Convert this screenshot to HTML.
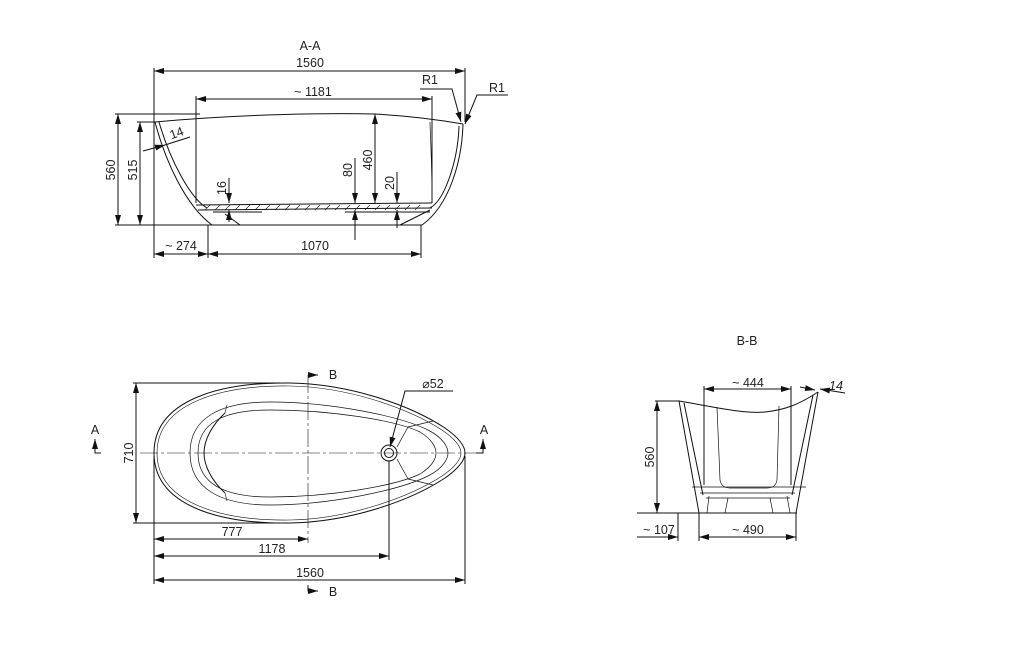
<!DOCTYPE html>
<html><head><meta charset="utf-8"><style>
html,body{margin:0;padding:0;background:#fff}
svg{display:block}
text{font-family:"Liberation Sans",sans-serif;font-size:12.5px;fill:#222}
</style></head><body>
<svg width="1013" height="660" viewBox="0 0 1013 660" xmlns="http://www.w3.org/2000/svg">
<defs>
<marker id="a" viewBox="0 0 10 6" refX="10" refY="3" markerWidth="10" markerHeight="6" orient="auto-start-reverse" markerUnits="userSpaceOnUse"><path d="M0,0L10,3L0,6Z" fill="#111"/></marker>
</defs>
<g stroke="#111" stroke-width="1" fill="none">
<!-- ===== A-A ===== -->
<line x1="154" y1="68" x2="154" y2="258"/>
<line x1="465" y1="68" x2="465" y2="122"/>
<line x1="154" y1="71" x2="465" y2="71" marker-start="url(#a)" marker-end="url(#a)"/>
<line x1="196" y1="96" x2="196" y2="203"/>
<line x1="432" y1="96" x2="432" y2="203"/>
<line x1="196" y1="99" x2="432" y2="99" marker-start="url(#a)" marker-end="url(#a)"/>
<line x1="115" y1="114" x2="200" y2="114"/>
<line x1="115" y1="225" x2="422" y2="225"/>
<line x1="118" y1="114" x2="118" y2="225" marker-start="url(#a)" marker-end="url(#a)"/>
<line x1="137" y1="122" x2="156" y2="122"/>
<line x1="140" y1="122" x2="140" y2="225" marker-start="url(#a)" marker-end="url(#a)"/>
<path d="M155,122 C240,114 330,113 375,114 C410,116 440,120 463,124"/>
<path d="M155,122 C165,160 185,205 212,225"/>
<path d="M159,122 C170,160 190,198 207,208"/>
<path d="M463,124 C462,160 450,205 422,225"/>
<path d="M459,126 C458,160 445,200 430,208"/>
<path d="M432,200 C432,160 430,130 430,122" stroke-width="0.7"/>
<path d="M196,205 L432,203" />
<path d="M198,210 L432,208" />
<path d="M213,212 L262,212 M345,212 L430,212"/>
<path d="M225,214 L240,225 M400,225 L430,210"/>
<g stroke-width="0.6">
<path d="M205,210 l5,-5 M215,210 l5,-5 M225,210 l5,-5 M235,210 l5,-5 M245,210 l5,-5 M255,210 l5,-5 M265,210 l5,-5 M275,210 l5,-5 M285,210 l5,-5 M295,210 l5,-5 M305,210 l5,-5 M315,210 l5,-5 M325,210 l5,-5 M335,210 l5,-5 M345,210 l5,-5 M355,210 l5,-5 M365,210 l5,-5 M375,210 l5,-5 M385,210 l5,-5 M395,210 l5,-5 M405,210 l5,-5 M415,210 l5,-5"/>
</g>
<line x1="355" y1="158" x2="355" y2="203" marker-end="url(#a)"/>
<line x1="355" y1="240" x2="355" y2="210" marker-end="url(#a)"/>
<line x1="375" y1="114" x2="375" y2="203" marker-start="url(#a)" marker-end="url(#a)"/>
<line x1="397" y1="172" x2="397" y2="203" marker-end="url(#a)"/>
<line x1="397" y1="228" x2="397" y2="210" marker-end="url(#a)"/>
<line x1="229" y1="178" x2="229" y2="203" marker-end="url(#a)"/>
<line x1="229" y1="222" x2="229" y2="210" marker-end="url(#a)"/>
<line x1="143" y1="151" x2="165" y2="145" marker-end="url(#a)"/>
<line x1="165" y1="145" x2="190" y2="137"/>
<line x1="208" y1="225" x2="208" y2="258"/>
<line x1="421" y1="225" x2="421" y2="258"/>
<line x1="154" y1="254" x2="208" y2="254" marker-start="url(#a)" marker-end="url(#a)"/>
<line x1="208" y1="254" x2="421" y2="254" marker-start="url(#a)" marker-end="url(#a)"/>
<path d="M420,89 L452,89 L461,122" marker-end="url(#a)"/>
<path d="M508,95 L477,95 L465,124" marker-end="url(#a)"/>
<!-- ===== Plan ===== -->
<path d="M154,453 C154,400 220,382 290,383 C350,384 410,405 445,428 C462,440 465,448 465,453 C465,458 462,466 445,478 C410,501 350,522 290,523 C220,524 154,506 154,453Z"/>
<path d="M157,453 C157,403 222,385 290,386 C348,387 408,408 442,430 C458,441 461,448 461,453 C461,458 458,465 442,476 C408,498 348,519 290,520 C222,521 157,503 157,453Z" stroke-width="0.6"/>
<path d="M190,453 C190,418 220,402 270,402 C330,402 400,416 428,430 C444,438 448,448 448,453 C448,458 444,468 428,476 C400,490 330,505 270,505 C220,505 190,488 190,453Z" stroke-width="0.7"/>
<path d="M198,453 C198,422 225,410 270,410 C330,410 395,420 420,432 C433,440 436,448 436,453 C436,458 433,466 420,474 C395,486 330,497 270,497 C225,497 198,484 198,453Z" stroke-width="0.7"/>
<path d="M225,413 C212,425 204,440 204,453 C204,466 212,481 225,493"/>
<path d="M225,413 L227,405 M225,493 L227,501" stroke-width="0.6"/>
<path d="M408,427 L433,421 M408,479 L433,485 M408,427 L397,447 M408,479 L397,459" stroke-width="0.7"/>
<circle cx="389" cy="453" r="8"/><circle cx="389" cy="453" r="4.5"/>
<line x1="133" y1="383" x2="280" y2="383"/>
<line x1="133" y1="523" x2="280" y2="523"/>
<line x1="136" y1="383" x2="136" y2="523" marker-start="url(#a)" marker-end="url(#a)"/>
<line x1="140" y1="453" x2="476" y2="453" stroke-width="0.6" stroke-dasharray="18,3,3,3"/>
<line x1="308" y1="375" x2="308" y2="543" stroke-width="0.6" stroke-dasharray="18,3,3,3"/>
<line x1="154" y1="456" x2="154" y2="584"/>
<line x1="465" y1="456" x2="465" y2="584"/>
<line x1="389" y1="461" x2="389" y2="560"/>
<line x1="154" y1="539" x2="308" y2="539" marker-start="url(#a)" marker-end="url(#a)"/>
<line x1="154" y1="556" x2="389" y2="556" marker-start="url(#a)" marker-end="url(#a)"/>
<line x1="154" y1="580" x2="465" y2="580" marker-start="url(#a)" marker-end="url(#a)"/>
<path d="M453,391 L405,391 L390,447" marker-end="url(#a)"/>
<path d="M308,375 L318,375" marker-end="url(#a)"/>
<path d="M308,585 L308,591 L318,591" marker-end="url(#a)"/>
<path d="M101,453 L95,453 L95,439" marker-end="url(#a)"/>
<path d="M476,453 L483,453 L483,439" marker-end="url(#a)"/>
<!-- ===== B-B ===== -->
<path d="M679,401 C720,408 745,414 765,412 C785,410 800,404 818,392"/>
<path d="M679,401 L699,513 M684,403 L703,495 M818,392 L796,513 M813,395 L792,495"/>
<path d="M717,407 L720,480 C721,486 725,488 730,488 L767,488 C772,488 776,486 777,480 L779,406" stroke-width="0.7"/>
<path d="M692,487 L806,487 M700,493 L795,493 M706,498 L790,498" stroke-width="0.7"/>
<path d="M709,496 L707,513 M728,498 L725,513 M770,498 L773,513 M787,496 L790,513" stroke-width="0.7"/>
<line x1="637" y1="513" x2="797" y2="513"/>
<line x1="655" y1="401" x2="680" y2="401"/>
<line x1="657" y1="401" x2="657" y2="513" marker-start="url(#a)" marker-end="url(#a)"/>
<line x1="704" y1="386" x2="704" y2="485"/>
<line x1="791" y1="386" x2="791" y2="485"/>
<line x1="704" y1="389" x2="791" y2="389" marker-start="url(#a)" marker-end="url(#a)"/>
<line x1="678" y1="513" x2="678" y2="541"/>
<line x1="699" y1="513" x2="699" y2="541"/>
<line x1="796" y1="513" x2="796" y2="541"/>
<line x1="637" y1="537" x2="678" y2="537" marker-end="url(#a)"/>
<line x1="699" y1="537" x2="796" y2="537" marker-start="url(#a)" marker-end="url(#a)"/>
<line x1="800" y1="387" x2="815" y2="390" marker-end="url(#a)"/>
<line x1="845" y1="393" x2="820" y2="389" marker-end="url(#a)"/>
</g>
<g>
<text x="310" y="50" text-anchor="middle">A-A</text>
<text x="310" y="67" text-anchor="middle">1560</text>
<text x="313" y="96" text-anchor="middle">~ 1181</text>
<text x="430" y="84" text-anchor="middle">R1</text>
<text x="497" y="92" text-anchor="middle">R1</text>
<text transform="translate(115,170) rotate(-90)" text-anchor="middle">560</text>
<text transform="translate(137,170) rotate(-90)" text-anchor="middle">515</text>
<text transform="translate(352,170) rotate(-90)" text-anchor="middle">80</text>
<text transform="translate(372,160) rotate(-90)" text-anchor="middle">460</text>
<text transform="translate(394,183) rotate(-90)" text-anchor="middle">20</text>
<text transform="translate(226,188) rotate(-90)" text-anchor="middle">16</text>
<text transform="translate(178,137) rotate(-20)" text-anchor="middle">14</text>
<text x="181" y="250" text-anchor="middle">~ 274</text>
<text x="315" y="250" text-anchor="middle">1070</text>
<text x="333" y="379" text-anchor="middle">B</text>
<text x="333" y="596" text-anchor="middle">B</text>
<text x="95" y="434" text-anchor="middle">A</text>
<text x="484" y="434" text-anchor="middle">A</text>
<text x="433" y="388" text-anchor="middle">⌀52</text>
<text transform="translate(133,453) rotate(-90)" text-anchor="middle">710</text>
<text x="232" y="536" text-anchor="middle">777</text>
<text x="272" y="553" text-anchor="middle">1178</text>
<text x="310" y="577" text-anchor="middle">1560</text>
<text x="747" y="345" text-anchor="middle">B-B</text>
<text x="748" y="387" text-anchor="middle">~ 444</text>
<text x="836" y="390" text-anchor="middle" font-style="italic">14</text>
<text transform="translate(654,457) rotate(-90)" text-anchor="middle">560</text>
<text x="659" y="534" text-anchor="middle">~ 107</text>
<text x="748" y="534" text-anchor="middle">~ 490</text>
</g>
</svg>
</body></html>
